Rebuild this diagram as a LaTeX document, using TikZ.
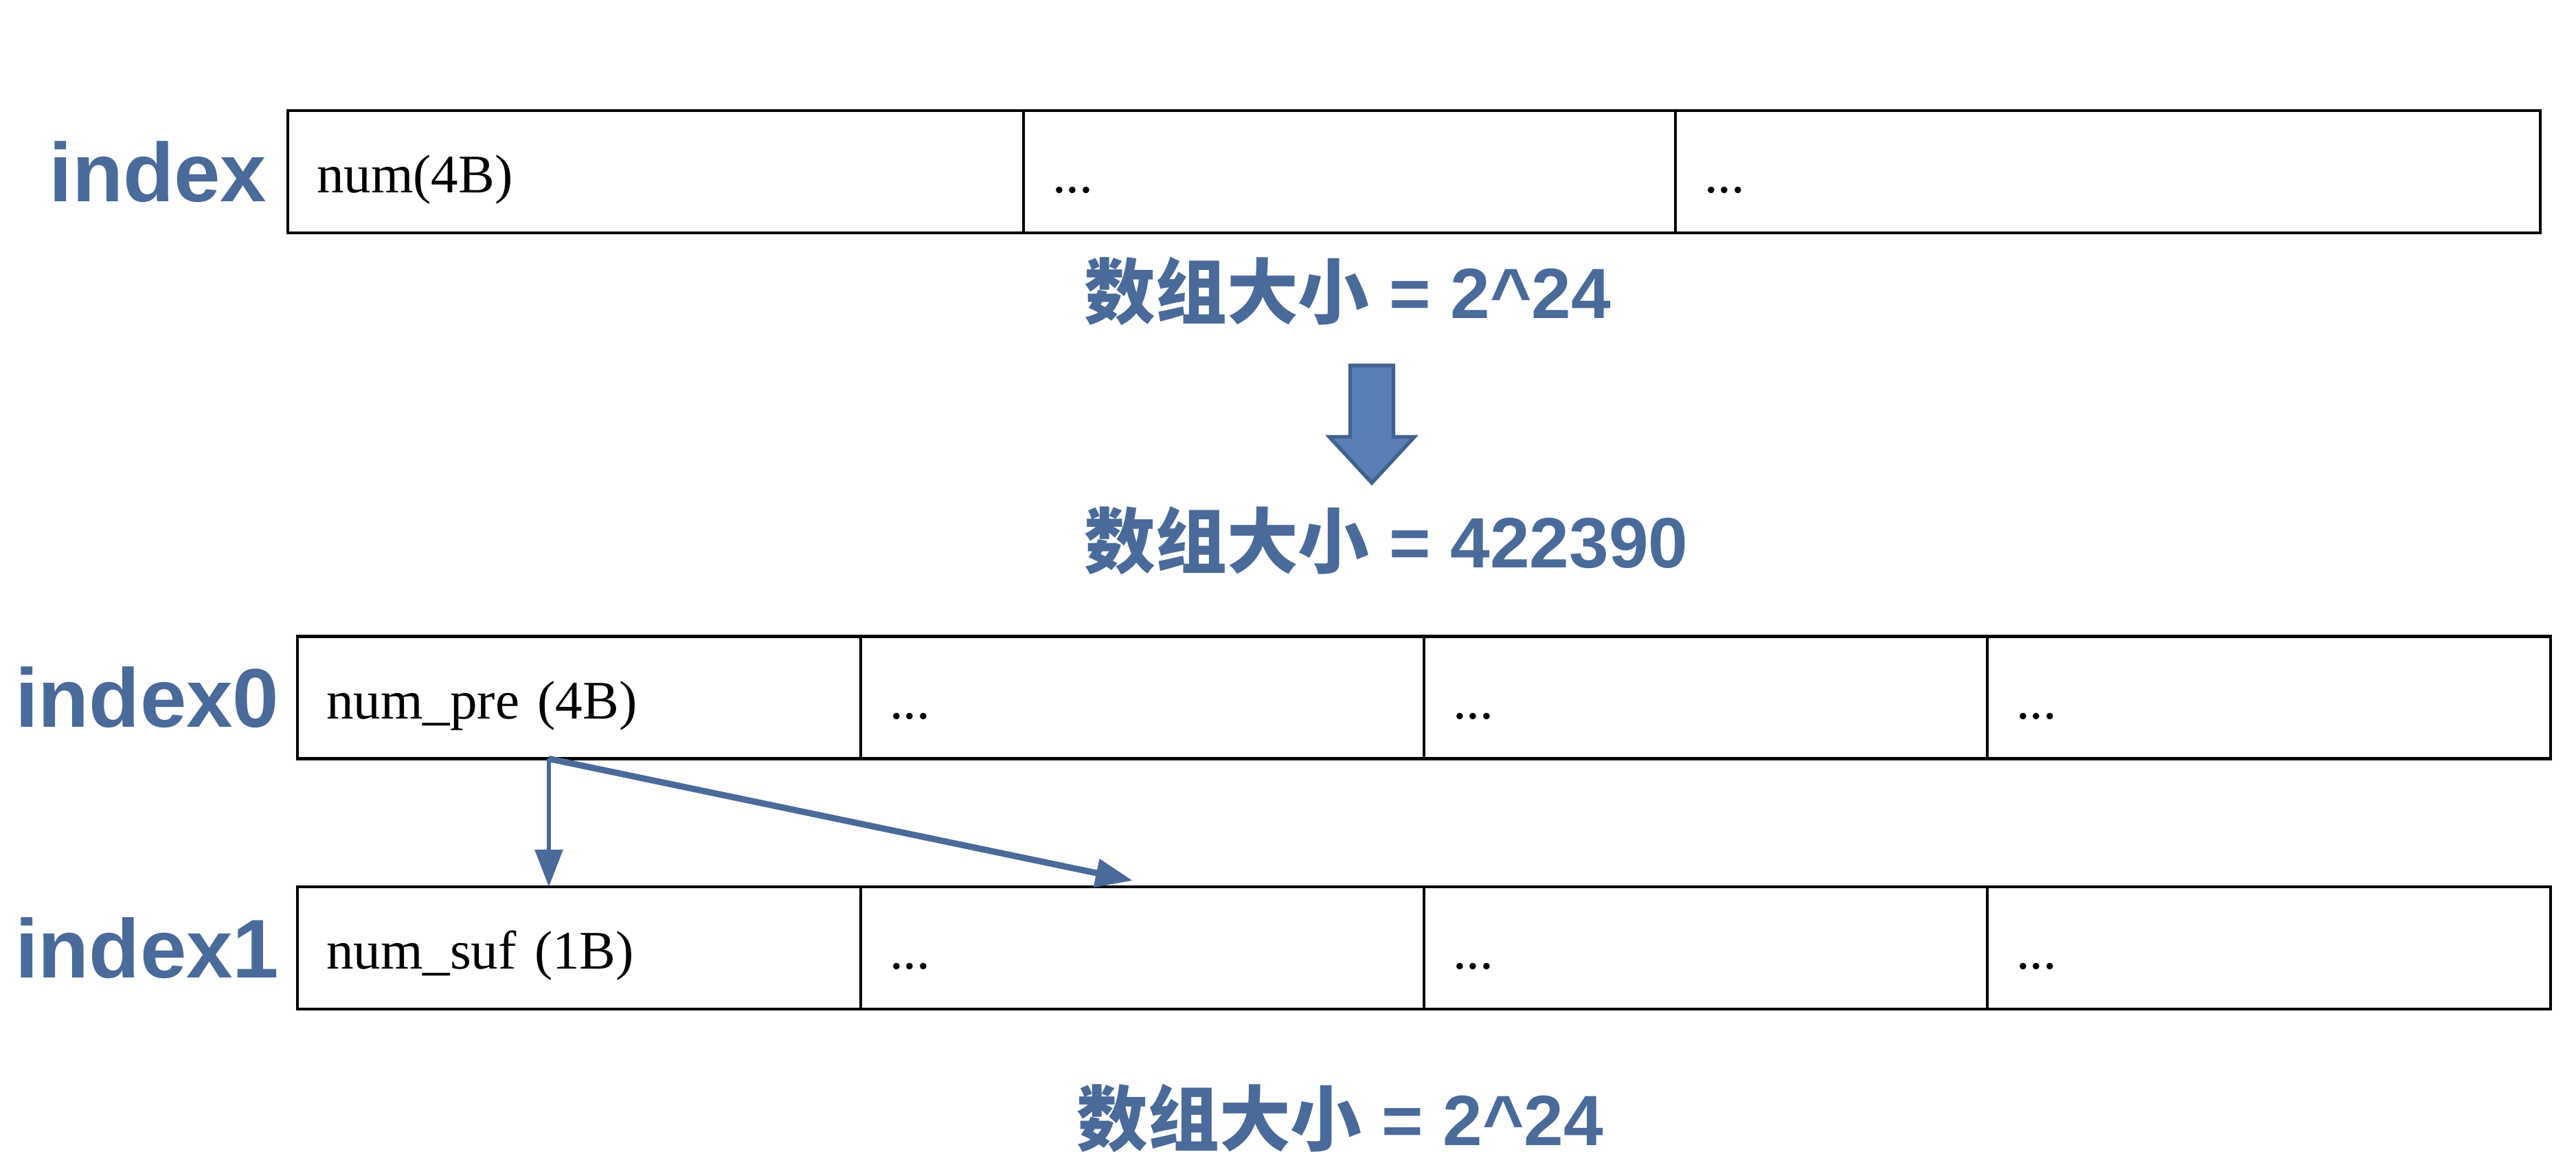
\documentclass[tikz,border=0pt]{standalone}
\usepackage{fontspec}
\setmainfont{Liberation Serif}
\newfontfamily\labelfont{Liberation Sans}
\newfontfamily\cjk{Noto Sans CJK SC}
\usetikzlibrary{positioning, arrows.meta, calc}
\definecolor{idxblue}{HTML}{4A6A9A}
\definecolor{arrowfill}{HTML}{5A7FB6}
\definecolor{arrowline}{HTML}{41618F}

\begin{document}
\begin{tikzpicture}[
  cell/.style={draw, line width=1.2pt, outer sep=0pt, minimum height=1.78cm,
    inner xsep=0.42cm, text width=#1, align=left, text height=0.72cm, text depth=0.1cm,
    font=\fontsize{22.5}{27}\selectfont},
  rowlabel/.style={anchor=east, text=idxblue, inner sep=0pt,
    font=\labelfont\bfseries\fontsize{34.5}{40}\selectfont},
  sizetext/.style={anchor=west, text=idxblue, inner sep=0pt,
    font=\labelfont\bfseries\fontsize{29.5}{35}\selectfont},
  link/.style={draw=idxblue, line width=1.6pt, -{Triangle[width=0.4cm, length=0.54cm]}},
]
\useasboundingbox (0,0) rectangle (37.5,17.12);

% index
\node[cell=9.87cm, anchor=west] (a1) at (4.19,14.62) {num(4B)};
\node[cell=8.65cm, right=0pt of a1] (a2) {...};
\node[cell=11.75cm, right=0pt of a2] (a3) {...};
\node[rowlabel] (la) at ($(a1.west)+(-0.3,0)$) {index};

\node[sizetext] (n1) at (15.78,12.88) {{\cjk 数组大小} = 2\textasciicircum 24};
\draw[fill=arrowfill, draw=arrowline, line width=1.5pt]
  (19.655,11.80) -- (20.285,11.80) -- (20.285,10.76) -- (20.59,10.76)
  -- (19.97,10.09) -- (19.35,10.76) -- (19.655,10.76) -- cycle;
\node[sizetext] (n2) at (15.78,9.245) {{\cjk 数组大小} = 422390};

% index0
\node[cell=7.36cm, anchor=west] (p1) at (4.33,6.965) {num\_pre (4B)};
\node[cell=7.36cm, right=0pt of p1] (p2) {...};
\node[cell=7.36cm, right=0pt of p2] (p3) {...};
\node[cell=7.36cm, right=0pt of p3] (p4) {...};
\node[rowlabel] (l0) at ($(p1.west)+(-0.26,0)$) {index0};

% index1
\node[cell=7.36cm, anchor=west] (s1) at (4.33,3.32) {num\_suf (1B)};
\node[cell=7.36cm, right=0pt of s1] (s2) {...};
\node[cell=7.36cm, right=0pt of s2] (s3) {...};
\node[cell=7.36cm, right=0pt of s3] (s4) {...};
\node[rowlabel] (l1) at ($(s1.west)+(-0.26,0)$) {index1};

\coordinate (src) at ($(p1.south)+(-0.44,0)$);
\draw[link] (src) -- (src |- s1.north);
\draw[link, line width=2.6pt] (src) -- ($(s2.north)+(-0.14,0.09)$);

\node[sizetext] (n3) at (15.67,0.835) {{\cjk 数组大小} = 2\textasciicircum 24};
\end{tikzpicture}
\end{document}
